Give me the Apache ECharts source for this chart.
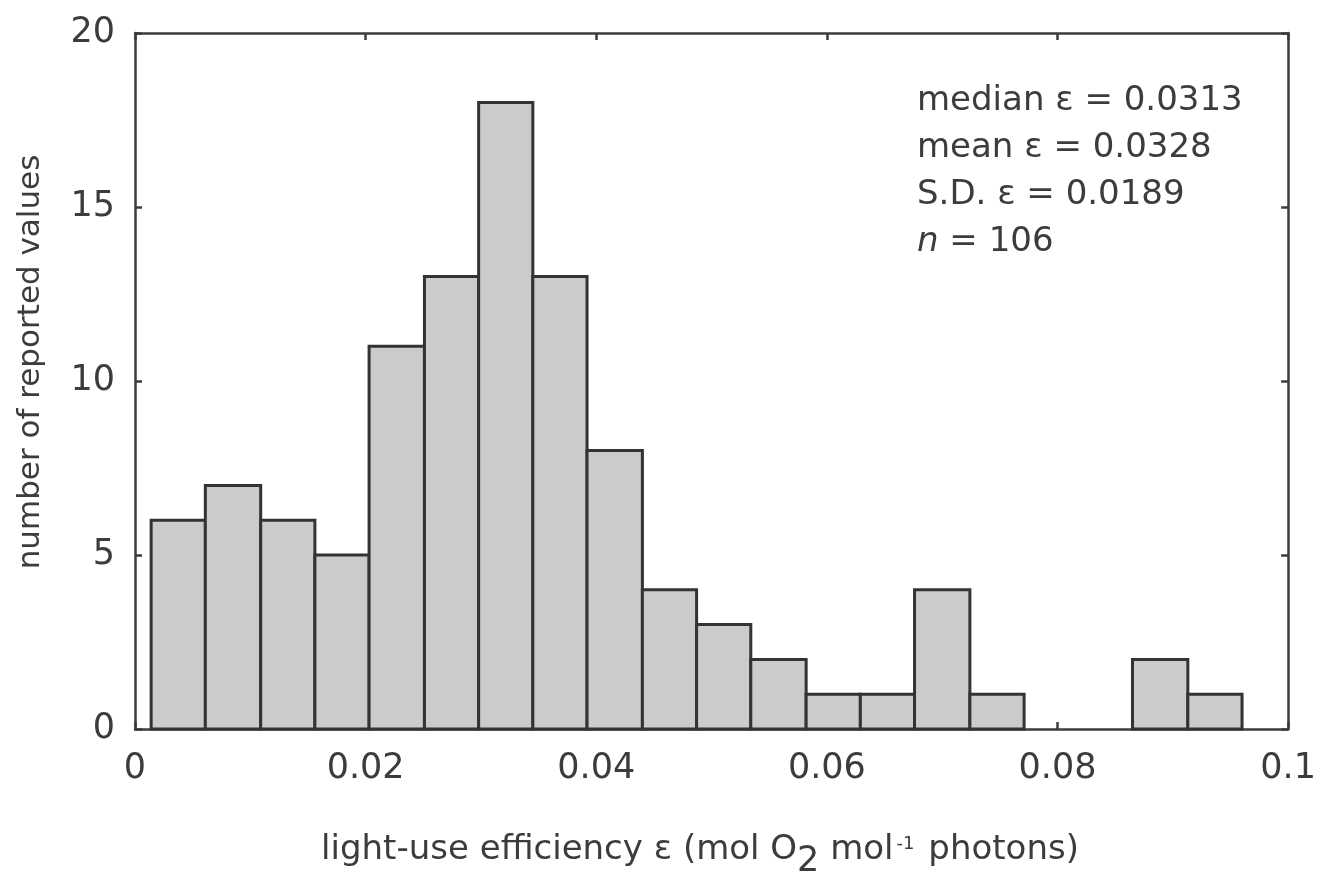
<!DOCTYPE html>
<html>
<head>
<meta charset="utf-8">
<script src="https://cdn.jsdelivr.net/npm/echarts@6/dist/echarts.min.js"></script>
<style>
  html, body { margin: 0; padding: 0; background: #fff; }
  #chart { width: 1319px; height: 877px; }
</style>
</head>
<body>
<div id="chart"></div>
<script>
// Histogram bin edges (light-use efficiency, mol O2 per mol photons)
const binEdges = [0.0014, 0.0061, 0.0109, 0.0156, 0.0203, 0.0251, 0.0298, 0.0345, 0.0392, 0.0440,
                  0.0487, 0.0534, 0.0582, 0.0629, 0.0676, 0.0724, 0.0771, 0.0818, 0.0865, 0.0913, 0.0960];
// Number of reported values in each bin
const binCounts = [6, 7, 6, 5, 11, 13, 18, 13, 8, 4, 3, 2, 1, 1, 4, 1, 0, 0, 2, 1];
// Axis ticks
const xTicks = [0, 0.02, 0.04, 0.06, 0.08, 0.1];
const yTicks = [0, 5, 10, 15, 20];
// Summary statistics
const statLines = [
  ['median ε', '0.0313'],
  ['mean ε', '0.0328'],
  ['S.D. ε', '0.0189']
];
const sampleSize = 106;

const FONT = 'DejaVu Sans';
const INK = '#3c3c3c';

const histData = binCounts.map((c, i) => [binEdges[i], binEdges[i + 1], c]);

const chart = echarts.init(document.getElementById('chart'), null, { renderer: 'canvas' });

const axisLine = { show: true, onZero: false, lineStyle: { color: INK, width: 2.5 } };
const axisTick = { show: true, inside: true, length: 7, lineStyle: { color: INK, width: 2.5 } };

const xBase = {
  type: 'value', min: xTicks[0], max: xTicks[xTicks.length - 1], interval: 0.02,
  splitLine: { show: false }, axisLine, axisTick
};
const yBase = {
  type: 'value', min: yTicks[0], max: yTicks[yTicks.length - 1], interval: 5,
  splitLine: { show: false }, axisLine, axisTick
};

const statText = statLines.map((s, i) => ({
  type: 'text',
  x: 917, y: 101 + i * 47,
  style: { text: s[0] + ' = ' + s[1], fontFamily: FONT, fontSize: 34, fill: INK, verticalAlign: 'middle' }
}));
statText.push({
  type: 'text',
  x: 917, y: 101 + 3 * 47,
  style: {
    text: '{i|n} = ' + sampleSize,
    fontFamily: FONT, fontSize: 34, fill: INK, verticalAlign: 'middle',
    rich: { i: { fontFamily: FONT, fontSize: 34, fontStyle: 'italic', fill: INK } }
  }
});

const option = {
  backgroundColor: '#ffffff',
  animation: false,
  grid: { left: 135, right: 26, top: 33, bottom: 148, containLabel: false },
  xAxis: [
    Object.assign({}, xBase, {
      position: 'bottom',
      axisLabel: { color: INK, fontFamily: FONT, fontSize: 35, margin: 22,
                   formatter: v => String(+v.toFixed(2)) }
    }),
    Object.assign({}, xBase, { position: 'top', axisLabel: { show: false } })
  ],
  yAxis: [
    Object.assign({}, yBase, {
      position: 'left',
      axisLabel: { color: INK, fontFamily: FONT, fontSize: 35, margin: 20 }
    }),
    Object.assign({}, yBase, { position: 'right', axisLabel: { show: false } })
  ],
  series: [{
    type: 'custom',
    xAxisIndex: 0,
    yAxisIndex: 0,
    data: histData,
    encode: { x: [0, 1], y: 2 },
    renderItem: function (params, api) {
      const count = api.value(2);
      if (!count) return null;
      const p0 = api.coord([api.value(0), count]);
      const p1 = api.coord([api.value(1), 0]);
      return {
        type: 'rect',
        shape: { x: p0[0], y: p0[1], width: p1[0] - p0[0], height: p1[1] - p0[1] },
        style: { fill: '#cbcbcb', stroke: '#333333', lineWidth: 3 }
      };
    }
  }],
  graphic: statText.concat([
    {
      // x-axis title with subscript and superscript
      type: 'text',
      x: 700, y: 852,
      style: {
        text: '{t|light-use efficiency ε (mol O}{sub|2}{t| mol}{sup|-1}{t| photons)}',
        align: 'center', verticalAlign: 'middle',
        rich: {
          t: { fontFamily: FONT, fontSize: 34, fill: INK, verticalAlign: 'top', lineHeight: 38 },
          sub: { fontFamily: FONT, fontSize: 35, fill: INK, verticalAlign: 'top', padding: [11, 0, 0, 0], lineHeight: 38 },
          sup: { fontFamily: FONT, fontSize: 18, fill: INK, verticalAlign: 'top', padding: [2, 3, 0, 3], lineHeight: 19 }
        }
      }
    },
    {
      // y-axis title
      type: 'text',
      x: 31, y: 362,
      rotation: Math.PI / 2,
      style: {
        text: 'number of reported values',
        fontFamily: FONT, fontSize: 31, fill: INK,
        align: 'center', verticalAlign: 'middle'
      }
    }
  ])
};

chart.setOption(option);
</script>
</body>
</html>
